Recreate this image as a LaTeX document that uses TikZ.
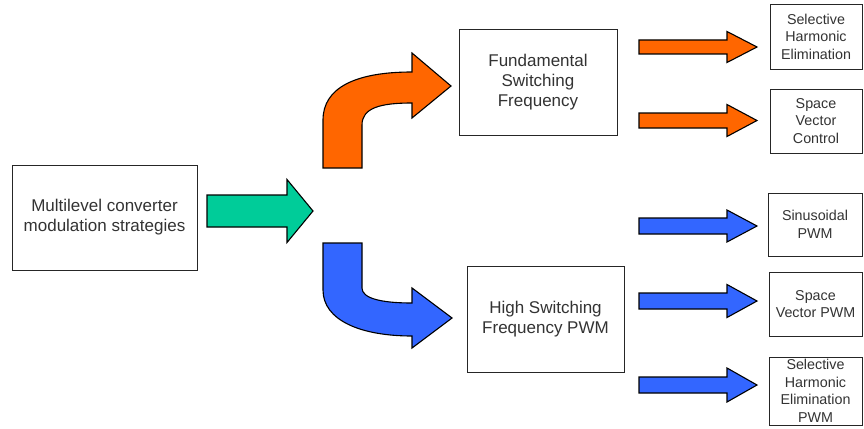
\documentclass[tikz,border=0pt]{standalone}
\usepackage{fontspec}
\setmainfont{Liberation Sans}
\begin{document}
\begin{tikzpicture}[x=1pt,y=-1pt,
  box/.style={draw=black!85, line width=0.9pt, fill=white, align=center,
    text=black!80, inner sep=0pt},
  bigtext/.style={font=\fontsize{17}{20}\selectfont},
  smalltext/.style={font=\fontsize{14.3}{17.5}\selectfont},
  blockarrow/.style={draw=black, line width=1.1pt, line join=miter}]
\definecolor{arrorange}{HTML}{FF6600}
\definecolor{arrgreen}{HTML}{00CC99}
\definecolor{arrblue}{HTML}{3366FF}
% horizontal block arrow: colour, tail x, head base x, tip x, centre y, half shaft, half head
\newcommand\hblock[7]{%
  \filldraw[blockarrow, fill=#1]
    (#2,#5-#6) -- (#3,#5-#6) -- (#3,#5-#7) -- (#4,#5) -- (#3,#5+#7)
    -- (#3,#5+#6) -- (#2,#5+#6) -- cycle;}
\useasboundingbox (0,0) rectangle (864,428);

% boxes
\node[box, bigtext, minimum width=185pt, minimum height=105pt] (root) at (104.5,217.5)
  {Multilevel converter\\modulation strategies};
\node[box, bigtext, minimum width=158pt, minimum height=106pt] (fund) at (538,82)
  {Fundamental\\Switching\\Frequency};
\node[box, bigtext, minimum width=157pt, minimum height=106pt] (high) at (545.5,319)
  {High Switching\\Frequency PWM};
\node[box, smalltext, minimum width=92pt, minimum height=65pt] (she) at (816,36.5)
  {Selective\\Harmonic\\Elimination};
\node[box, smalltext, minimum width=92pt, minimum height=64pt] (svc) at (816,121)
  {Space\\Vector\\Control};
\node[box, smalltext, minimum width=94pt, minimum height=63pt] (spwm) at (815,224.5)
  {Sinusoidal\\PWM};
\node[box, smalltext, minimum width=93pt, minimum height=64pt] (svpwm) at (815.5,304)
  {Space\\Vector PWM};
\node[box, smalltext, minimum width=93pt, minimum height=68pt] (shepwm) at (815.5,391)
  {Selective\\Harmonic\\Elimination\\PWM};

% green arrow out of the root box
\hblock{arrgreen}{207}{287}{313}{211}{16}{31.5}

% orange bent arrow up to the fundamental-frequency branch
\filldraw[blockarrow, fill=arrorange]
  (323,168) -- (323,120) .. controls (323,88) and (355,72) .. (412,72)
  -- (412,53) -- (451,86) -- (412,118) -- (412,103)
  .. controls (380,103) and (362,108) .. (362,125) -- (362,168) -- cycle;

% blue bent arrow down to the high-frequency branch
\filldraw[blockarrow, fill=arrblue]
  (323,243) -- (362,243) -- (362,288)
  .. controls (362,298) and (380,303) .. (412,303)
  -- (412,288) -- (452,318) -- (412,348) -- (412,336)
  .. controls (360,336) and (323,320) .. (323,290) -- cycle;

% orange arrows to the fundamental-frequency methods
\hblock{arrorange}{639}{727}{757}{47}{7}{15.5}
\hblock{arrorange}{639}{727}{757}{120.5}{7.5}{16}

% blue arrows to the PWM methods
\hblock{arrblue}{639}{727}{757}{226}{8}{16}
\hblock{arrblue}{639}{727}{757}{301}{8}{16.5}
\hblock{arrblue}{639}{727}{757}{385}{8}{17}
\end{tikzpicture}
\end{document}
